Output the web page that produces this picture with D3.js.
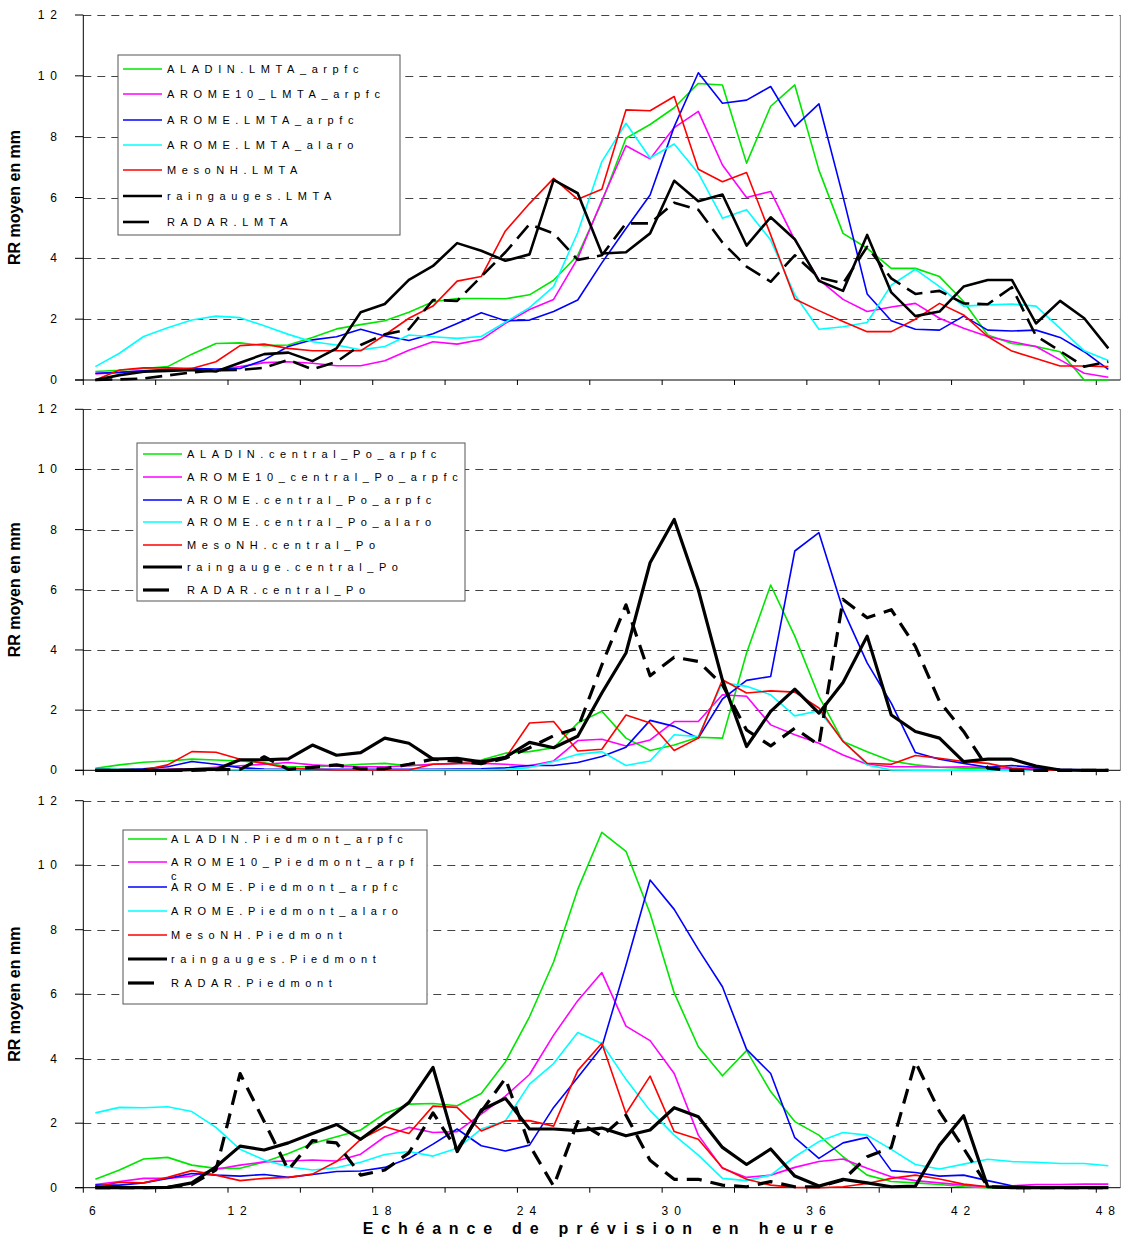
<!DOCTYPE html>
<html lang="fr">
<head>
<meta charset="UTF-8">
<title>RR moyen</title>
<script src="https://d3js.org/d3.v7.min.js"></script>
<style>
    *{margin:0;padding:0}
    body{background:#fff}
    svg text{font-family:"Liberation Sans",Arial,sans-serif;fill:#000}
    .grid line{stroke:#444;stroke-width:1;stroke-dasharray:8,6}
    .axis line{stroke:#000;stroke-width:1}
    .frame{stroke:#888;stroke-width:1}
    .lab{font-size:12px;letter-spacing:6px}
    .leg text{font-size:11px;letter-spacing:5.6px}
    .ytitle,.xtitle{font-weight:bold}
</style>
</head>
<body>
<div id="chart"></div>
<script>
    // categories (heures d'échéance) and axis labels
    var hours = [6,7,8,9,10,11,12,13,14,15,16,17,18,19,20,21,22,23,24,25,26,27,
        28,29,30,31,32,33,34,35,36,37,38,39,40,41,42,43,44,45,46,47,48];
    var yTicks = [0,2,4,6,8,10,12];
    var xLabels = [6,12,18,24,30,36,42,48];

    /* LMTA */
    var namesLMTA = ['ALADIN.LMTA_arpfc','AROME10_LMTA_arpfc','AROME.LMTA_arpfc','AROME.LMTA_alaro',
        'MesoNH.LMTA','raingauges.LMTA','RADAR.LMTA'];
    var aladinLMTA = [0.28,0.32,0.38,0.44,0.85,1.2,1.22,1.13,1.15,1.4,1.68,1.82,1.95,2.23,2.57,2.68,2.68,2.67,2.8,3.28,
        4.1,5.85,7.95,8.4,8.95,9.75,9.7,7.13,9.0,9.7,6.9,4.82,4.33,3.67,3.67,3.4,2.58,1.48,1.2,1.1,0.93,0,0];
    var arome10LMTA = [0.2,0.25,0.3,0.33,0.38,0.33,0.44,0.57,0.6,0.55,0.47,0.47,0.63,0.98,1.26,1.18,1.33,1.86,2.32,2.65,
        4.0,5.9,7.7,7.27,8.3,8.83,7.07,6.0,6.2,4.6,3.3,2.65,2.25,2.4,2.52,2.03,1.7,1.43,1.26,1.1,0.66,0.22,0.09];
    var aromeLMTA = [0.22,0.25,0.3,0.35,0.38,0.36,0.38,0.66,1.1,1.32,1.42,1.67,1.45,1.3,1.52,1.86,2.21,1.95,1.97,2.25,
        2.63,3.85,4.98,6.08,8.33,10.1,9.1,9.2,9.65,8.33,9.08,6.03,2.83,1.95,1.67,1.64,2.1,1.64,1.61,1.64,1.4,0.93,0.35];
    var alaroLMTA = [0.44,0.88,1.43,1.72,1.97,2.1,2.05,1.78,1.5,1.26,1.15,0.99,1.1,1.48,1.42,1.37,1.43,1.9,2.38,3.07,
        4.85,7.18,8.44,7.3,7.76,6.8,5.32,5.6,4.6,2.8,1.67,1.75,1.89,3.12,3.64,3.07,2.43,2.47,2.5,2.43,1.7,0.96,0.64];
    var mesonhLMTA = [0,0.33,0.4,0.4,0.38,0.6,1.13,1.18,1.04,0.96,0.96,0.96,1.48,2.03,2.43,3.25,3.4,4.9,5.8,6.63,
        5.94,6.27,8.88,8.85,9.32,6.93,6.52,6.82,4.77,2.66,2.28,1.92,1.59,1.59,2.0,2.52,2.14,1.43,0.95,0.71,0.46,0.46,0.44];
    var gaugesLMTA = [0,0.16,0.27,0.3,0.33,0.28,0.57,0.85,0.9,0.62,1.04,2.23,2.5,3.29,3.75,4.5,4.25,3.92,4.13,6.58,
        6.14,4.16,4.2,4.82,6.55,5.88,6.1,4.42,5.35,4.63,3.26,2.93,4.77,2.88,2.1,2.25,3.07,3.29,3.29,1.86,2.6,2.03,1.04];
    var radarLMTA = [0,0.02,0.05,0.15,0.25,0.32,0.33,0.4,0.66,0.35,0.6,1.15,1.5,1.67,2.63,2.6,3.4,4.2,5.12,4.82,
        3.95,4.1,5.15,5.15,5.83,5.6,4.52,3.73,3.23,4.1,3.37,3.18,4.38,3.34,2.83,2.93,2.52,2.49,3.05,1.45,0.95,0.44,0.6];

    /* central Po */
    var namesPo = ['ALADIN.central_Po_arpfc','AROME10_central_Po_arpfc','AROME.central_Po_arpfc','AROME.central_Po_alaro',
        'MesoNH.central_Po','raingauge.central_Po','RADAR.central_Po'];
    var aladinPo = [0.07,0.18,0.27,0.31,0.37,0.34,0.31,0.25,0.12,0.12,0.15,0.2,0.23,0.15,0.2,0.23,0.34,0.57,0.62,0.75,1.57,1.96,
        1.07,0.66,0.84,1.1,1.07,3.9,6.16,4.46,2.46,0.96,0.62,0.31,0.18,0.1,0.07,0.05,0.04,0.03,0.02,0.01,0];
    var arome10Po = [0.02,0.02,0.02,0.03,0.05,0.1,0.15,0.2,0.26,0.18,0.14,0.12,0.12,0.15,0.2,0.23,0.23,0.2,0.15,0.31,0.99,1.03,
        0.81,1.01,1.62,1.62,2.51,2.46,1.51,1.18,0.9,0.51,0.2,0.12,0.12,0.1,0.12,0.09,0.07,0.04,0.02,0.02,0.01];
    var aromePo = [0.02,0.02,0.05,0.12,0.29,0.2,0.09,0.04,0.03,0.03,0.03,0.03,0.03,0.03,0.03,0.04,0.05,0.08,0.16,0.16,0.26,0.46,
        0.77,1.66,1.46,1.07,2.37,2.99,3.12,7.29,7.9,5.34,3.57,2.23,0.59,0.37,0.23,0.1,0.16,0.09,0.03,0.02,0.01];
    var alaroPo = [0.05,0.03,0.02,0.02,0.02,0.02,0.02,0.02,0.02,0.02,0.02,0.02,0.02,0.02,0.02,0.02,0.02,0.03,0.09,0.29,0.53,0.62,
        0.16,0.31,1.18,1.12,2.92,2.79,2.51,1.81,1.98,0.99,0.18,0.01,0,0,0,0,0,0,0,0,0];
    var mesonhPo = [0,0,0.01,0.18,0.62,0.6,0.37,0.23,0.07,0.03,0.01,0.01,0.01,0.01,0.2,0.23,0.23,0.4,1.57,1.62,0.64,0.7,
        1.84,1.57,0.66,1.07,3.01,2.57,2.64,2.6,2.07,0.96,0.23,0.2,0.49,0.4,0.29,0.23,0.07,0.01,0,0,0];
    var gaugePo = [0,0,0,0,0.02,0.03,0.35,0.35,0.38,0.84,0.5,0.59,1.07,0.9,0.37,0.4,0.28,0.43,0.93,0.75,1.13,2.57,
        3.9,6.9,8.34,6.0,3.0,0.79,1.96,2.7,1.9,2.92,4.46,1.84,1.29,1.07,0.29,0.37,0.37,0.14,0.01,0,0];
    var radarPo = [0,0,0,0,0,0.02,0.03,0.45,0.03,0.1,0.18,0.05,0.05,0.2,0.37,0.3,0.22,0.4,0.75,1.15,1.4,3.5,
        5.5,3.14,3.76,3.62,2.84,1.34,0.81,1.4,0.84,5.68,5.07,5.34,4.12,2.29,1.29,0.07,0,0,0,0,0];

    /* Piedmont */
    var namesPied = ['ALADIN.Piedmont_arpfc','AROME10_Piedmont_arpf\nc','AROME.Piedmont_arpfc','AROME.Piedmont_alaro',
        'MesoNH.Piedmont','raingauges.Piedmont','RADAR.Piedmont'];
    var aladinPied = [0.26,0.55,0.89,0.94,0.7,0.6,0.6,0.8,1.06,1.37,1.58,1.79,2.3,2.59,2.61,2.54,2.92,3.9,5.3,7.0,9.25,11.02,
        10.43,8.5,6.04,4.37,3.47,4.25,2.98,2.05,1.63,0.96,0.39,0.19,0.15,0.1,0.03,0,0,0,0,0,0];
    var arome10Pied = [0.1,0.19,0.29,0.29,0.36,0.57,0.7,0.8,0.83,0.86,0.83,1.04,1.58,1.87,1.71,1.74,2.28,2.84,3.51,4.73,5.8,6.67,
        5.01,4.56,3.54,1.63,0.6,0.32,0.39,0.63,0.81,0.89,0.6,0.34,0.22,0.15,0.08,0.03,0.06,0.1,0.1,0.11,0.11];
    var aromePied = [0.08,0.08,0.15,0.29,0.44,0.39,0.36,0.41,0.32,0.41,0.5,0.52,0.63,0.91,1.35,1.82,1.3,1.14,1.32,2.49,3.42,4.36,
        6.9,9.54,8.63,7.39,6.23,4.29,3.54,1.55,0.91,1.39,1.56,0.53,0.47,0.36,0.39,0.22,0.06,0.03,0.02,0.02,0.02];
    var alaroPied = [2.32,2.49,2.48,2.51,2.36,1.87,1.19,0.86,0.65,0.55,0.62,0.79,1.03,1.12,0.98,1.22,1.82,2.07,3.21,3.85,4.81,4.47,
        3.36,2.39,1.63,1.01,0.29,0.22,0.39,0.96,1.43,1.71,1.63,1.19,0.72,0.58,0.73,0.88,0.81,0.79,0.75,0.75,0.68];
    var mesonhPied = [0.03,0.17,0.15,0.32,0.53,0.39,0.22,0.29,0.32,0.42,0.81,1.5,1.89,1.68,2.53,2.49,1.76,2.07,2.08,1.91,3.63,4.48,
        2.3,3.46,1.74,1.5,0.62,0.26,0.08,0.01,0,0.03,0.13,0.29,0.39,0.27,0.11,0.03,0,0,0,0,0];
    var gaugesPied = [0,0,0,0.01,0.15,0.65,1.29,1.17,1.39,1.68,1.96,1.5,2.05,2.64,3.73,1.12,2.41,2.77,1.82,1.82,1.77,1.85,
        1.61,1.79,2.48,2.2,1.25,0.72,1.2,0.36,0.05,0.26,0.15,0.03,0.05,1.32,2.23,0.03,0,0,0,0,0];
    var radarPied = [0,0,0,0.01,0.1,0.55,3.54,2.05,0.55,1.46,1.39,0.39,0.55,1.08,2.32,1.17,2.36,3.39,1.32,0.05,2.05,1.6,
        2.25,0.85,0.26,0.26,0.08,0.03,0.19,0.03,0.03,0.24,0.96,1.25,3.9,2.36,1.22,0.03,0,0,0,0,0];

    var colors = ['#00e600','#ff00ff','#0000ff','#00ffff','#ff0000','#000','#000'];

    var panels = [
        {top:15, bottom:380, names:namesLMTA,
            series:[aladinLMTA,arome10LMTA,aromeLMTA,alaroLMTA,mesonhLMTA,gaugesLMTA,radarLMTA],
            box:[118,55,282,180], rows:[69,94,120,145,170,196,222], sx:123, tx:167, bw:2.6, dash:'17,8'},
        {top:409.3, bottom:770.3, names:namesPo,
            series:[aladinPo,arome10Po,aromePo,alaroPo,mesonhPo,gaugePo,radarPo],
            box:[137,443,328,158], rows:[454,477,500,522,545,567,590], sx:143, tx:187, bw:3.2, dash:'15,9'},
        {top:800.7, bottom:1187.7, names:namesPied,
            series:[aladinPied,arome10Pied,aromePied,alaroPied,mesonhPied,gaugesPied,radarPied],
            box:[123,830,304,174], rows:[839,862,887,911,935,959,983], sx:128, tx:171, bw:3.2, dash:'15,9'}
    ];

    var W = 1122, H = 1239, X0 = 83.3, X1 = 1120.4;

    var svg = d3.select('#chart').append('svg')
        .attr('width', W).attr('height', H);

    var x = d3.scaleBand().domain(hours).range([X0, X1]);
    function cx(h){ return x(h) + x.bandwidth()/2; }
    var tickHours = hours.filter(function(h){ return (h-6)%3 === 0; });

    function drawPanel(p) {
        var y = d3.scaleLinear().domain([0,12]).range([p.bottom, p.top]);
        var g = svg.append('g');

        // dashed gridlines
        g.append('g').attr('class','grid').selectAll('line')
            .data(yTicks.filter(function(t){ return t > 0; }))
            .enter().append('line')
            .attr('x1', X0).attr('x2', X1)
            .attr('y1', function(d){ return Math.round(y(d))+0.5; })
            .attr('y2', function(d){ return Math.round(y(d))+0.5; });

        g.append('line').attr('class','frame')
            .attr('x1', X1).attr('x2', X1).attr('y1', p.top).attr('y2', p.bottom);

        var ax = g.append('g').attr('class','axis');
        ax.append('line').attr('x1', X0).attr('x2', X0).attr('y1', p.top).attr('y2', p.bottom);
        ax.append('line').attr('x1', 75).attr('x2', X1).attr('y1', p.bottom).attr('y2', p.bottom);
        ax.selectAll('.yt').data(yTicks).enter().append('line')
            .attr('x1', 75).attr('x2', X0)
            .attr('y1', function(d){ return y(d); }).attr('y2', function(d){ return y(d); });
        ax.selectAll('.xt').data(tickHours).enter().append('line')
            .attr('x1', function(d){ return x(d); }).attr('x2', function(d){ return x(d); })
            .attr('y1', p.bottom).attr('y2', p.bottom + 5);

        g.selectAll('.ylab').data(yTicks).enter().append('text')
            .attr('class','lab')
            .attr('x', 63).attr('y', function(d){ return y(d) + 4; })
            .attr('text-anchor','end')
            .text(function(d){ return d; });

        g.append('text').attr('class','ytitle')
            .attr('transform','translate(20,' + ((p.top + p.bottom)/2) + ') rotate(-90)')
            .attr('text-anchor','middle')
            .style('font-size','16px')
            .text('RR moyen en mm');

        // series
        var line = d3.line()
            .x(function(d, i){ return cx(hours[i]); })
            .y(function(d){ return y(d); });

        p.series.forEach(function(s, i) {
            var path = g.append('path')
                .attr('fill','none')
                .attr('stroke', colors[i])
                .attr('stroke-linejoin','round')
                .attr('stroke-width', i < 5 ? 1.6 : p.bw)
                .attr('d', line(s));
            if (i === 6) path.attr('stroke-dasharray', p.dash);
        });

        // legend
        var lg = g.append('g').attr('class','leg');
        lg.append('rect')
            .attr('x', p.box[0]).attr('y', p.box[1])
            .attr('width', p.box[2]).attr('height', p.box[3])
            .attr('fill','#fff').attr('stroke','#555').attr('stroke-width',1);
        p.names.forEach(function(n, i) {
            var ry = p.rows[i];
            lg.append('line')
                .attr('x1', p.sx).attr('x2', p.sx + (i === 6 ? 26 : 39))
                .attr('y1', ry).attr('y2', ry)
                .attr('stroke', colors[i])
                .attr('stroke-width', i < 5 ? 1.6 : p.bw);
            n.split('\n').forEach(function(t, k) {
                lg.append('text')
                    .attr('x', p.tx).attr('y', ry + 4 + k*14)
                    .text(t);
            });
        });
    }

    panels.forEach(drawPanel);

    // x labels (bottom panel only) and title
    var last = panels[panels.length-1];
    svg.selectAll('.xlab').data(xLabels).enter().append('text')
        .attr('class','lab')
        .attr('x', function(d){ return cx(d); })
        .attr('y', last.bottom + 27)
        .attr('text-anchor','middle')
        .text(function(d){ return d; });

    svg.append('text').attr('class','xtitle')
        .attr('x', 602).attr('y', 1234)
        .attr('text-anchor','middle')
        .style('font-size','16px')
        .style('letter-spacing','7.8px')
        .text('Echéance de prévision en heure');
</script>
</body>
</html>
